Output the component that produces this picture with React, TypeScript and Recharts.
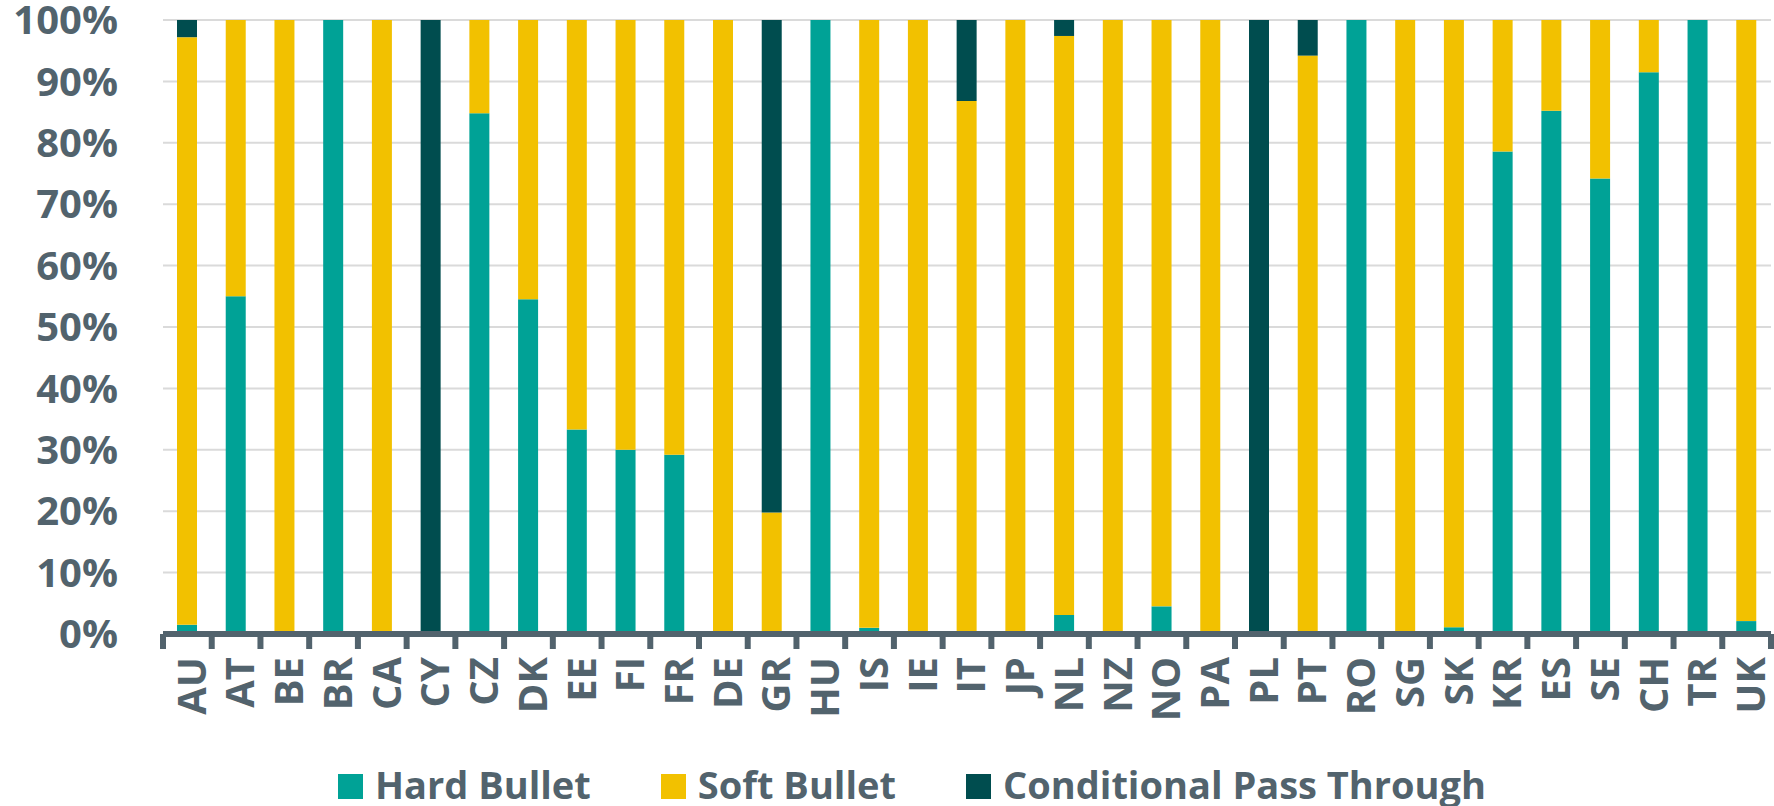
import React from 'react';
import { BarChart, Bar, XAxis, YAxis, CartesianGrid, Legend } from 'recharts';

const categories = ['AU','AT','BE','BR','CA','CY','CZ','DK','EE','FI','FR','DE','GR','HU','IS','IE','IT','JP','NL','NZ','NO','PA','PL','PT','RO','SG','SK','KR','ES','SE','CH','TR','UK'];
const hardBullet = [1.5,55,0,100,0,0,84.8,54.5,33.3,30,29.2,0,0,100,1,0,0,0,3.1,0,4.5,0,0,0,100,0,1.1,78.6,85.2,74.2,91.5,100,2.1];
const softBullet = [95.7,45,100,0,100,0,15.2,45.5,66.7,70,70.8,100,19.8,0,99,100,86.8,100,94.3,100,95.5,100,0,94.2,0,100,98.9,21.4,14.8,25.8,8.5,0,97.9];
const conditionalPassThrough = [2.8,0,0,0,0,100,0,0,0,0,0,0,80.2,0,0,0,13.2,0,2.6,0,0,0,100,5.8,0,0,0,0,0,0,0,0,0];
const yTicks = [0,10,20,30,40,50,60,70,80,90,100];
const seriesNames = ['Hard Bullet','Soft Bullet','Conditional Pass Through'];

const data = categories.map((c, i) => ({
  name: c,
  hard: hardBullet[i],
  soft: softBullet[i],
  cpt: conditionalPassThrough[i],
}));

const W = 1774;
const H = 806;
const MARGIN = { top: 20, right: 3, left: 0, bottom: 0 };
const Y_W = 163;
const X_H = 128;
const LEGEND_H = 44;
const PLOT_W = W - MARGIN.left - MARGIN.right - Y_W;
const BAND = PLOT_W / categories.length;

const TEXT = '#52636d';
const FONT = '"Open Sans", sans-serif';

const XTick = (props: any) => {
  const { x, y, payload, index } = props;
  const half = BAND / 2;
  const lx = x + 4;
  const ly = y + 23;
  return (
    <g>
      <line x1={x - half} x2={x - half} y1={y} y2={y + 15} stroke={TEXT} strokeWidth={6} />
      {index === categories.length - 1 && (
        <line x1={x + half} x2={x + half} y1={y} y2={y + 15} stroke={TEXT} strokeWidth={6} />
      )}
      <text
        x={lx}
        y={ly}
        transform={`rotate(-90, ${lx}, ${ly})`}
        textAnchor="end"
        dy="0.36em"
        fill={TEXT}
        fontSize={40}
        fontWeight={700}
        fontFamily={FONT}
      >
        {payload.value}
      </text>
    </g>
  );
};

const LegendContent = (props: any) => {
  const payload = [...(props.payload || [])].sort(
    (a: any, b: any) => seriesNames.indexOf(a.value) - seriesNames.indexOf(b.value)
  );
  return (
    <div
      style={{
        height: LEGEND_H,
        display: 'flex',
        justifyContent: 'center',
        alignItems: 'flex-start',
        paddingLeft: 50,
        boxSizing: 'border-box',
        fontFamily: FONT,
        fontWeight: 700,
        fontSize: 38,
        lineHeight: `${LEGEND_H}px`,
        color: TEXT,
        whiteSpace: 'nowrap',
        overflow: 'visible',
      }}
    >
      {payload.map((p: any, i: number) => (
        <div key={i} style={{ display: 'flex', alignItems: 'flex-start', marginLeft: i === 0 ? 0 : 70 }}>
          <span
            style={{
              display: 'inline-block',
              width: 25,
              height: 25,
              background: p.color,
              marginTop: 12,
              marginRight: 12,
            }}
          />
          <span>{p.value}</span>
        </div>
      ))}
    </div>
  );
};

export default function App() {
  return (
    <div style={{ position: 'absolute', left: 0, top: 0, background: '#fff' }}>
      <BarChart width={W} height={H} data={data} margin={MARGIN} barSize={20}>
        <CartesianGrid vertical={false} stroke="#dadada" strokeWidth={2} />
        <XAxis
          dataKey="name"
          interval={0}
          height={X_H}
          tickLine={false}
          tickSize={0}
          tickMargin={0}
          axisLine={{ stroke: TEXT, strokeWidth: 6 }}
          tick={<XTick />}
        />
        <YAxis
          width={Y_W}
          domain={[0, 100]}
          ticks={yTicks}
          interval={0}
          axisLine={false}
          tickLine={false}
          tickSize={0}
          tickMargin={45}
          tickFormatter={(v: number) => `${v}%`}
          tick={{ fill: TEXT, fontSize: 40, fontWeight: 700, fontFamily: FONT }}
        />
        <Legend
          verticalAlign="bottom"
          content={<LegendContent />}
          wrapperStyle={{ left: 0, width: W, bottom: 0, height: LEGEND_H }}
        />
        <Bar dataKey="hard" name={seriesNames[0]} stackId="a" fill="#00a296" isAnimationActive={false} />
        <Bar dataKey="soft" name={seriesNames[1]} stackId="a" fill="#f2c100" isAnimationActive={false} />
        <Bar dataKey="cpt" name={seriesNames[2]} stackId="a" fill="#004d4f" isAnimationActive={false} />
      </BarChart>
    </div>
  );
}
